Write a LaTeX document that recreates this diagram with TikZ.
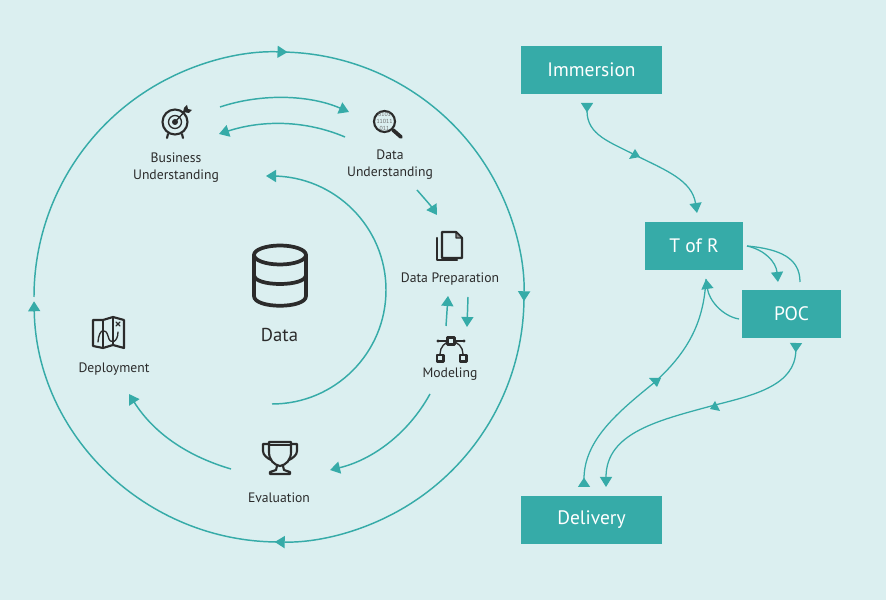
\documentclass[tikz,border=0pt]{standalone}
\usepackage{fontspec}
\setmainfont{PT Sans}
\usetikzlibrary{calc,arrows.meta,positioning}
\definecolor{paper}{HTML}{DBEFF0}
\definecolor{teal}{HTML}{36ABA8}
\definecolor{ink}{HTML}{2B2B2B}

\begin{document}
\begin{tikzpicture}[
  x=0.75pt, y=0.75pt,
  flow/.style={draw=teal, line width=1.1pt, -{Triangle[length=7.5pt,width=9pt]}},
  relay/.style={draw=teal, line width=.95pt},
  relaytip/.style={relay, -{Triangle[length=7.5pt,width=9pt]}},
  stagebox/.style={draw=none, fill=teal, text=white, font=\fontsize{14.6}{16}\selectfont,
    minimum height=36pt, inner sep=0pt},
  step label/.style={text=ink, font=\fontsize{10.25}{12.75}\selectfont, align=center},
  icon/.style={draw=ink, line width=1.6pt, line cap=round, line join=round},
  thinicon/.style={draw=ink, line width=1pt, line cap=round, line join=round}
]
  \useasboundingbox (0,0) rectangle (886,600);
  \fill[paper] (0,0) rectangle (886,600);

  % === Outer ring ===
  \draw[flow] (34,303) arc[start angle=180, end angle=88, radius=245];
  \draw[flow] (279,548) arc[start angle=90, end angle=-1, radius=245];
  \draw[flow] (524,303) arc[start angle=0, end angle=-91, radius=245];
  \draw[flow] (279,58) arc[start angle=-90, end angle=-179, radius=245];

  % === Labels ===
  \node[step label] (business) at (176,432) {Business\\Understanding};
  \node[step label] (understanding) at (390,435) {Data\\Understanding};
  \node[step label] (preparation) at (450,321) {Data Preparation};
  \node[step label] (modeling) at (450,226) {Modeling};
  \node[step label] (evaluation) at (279,102) {Evaluation};
  \node[step label] (deployment) at (114,231) {Deployment};
  \node[text=ink, font=\fontsize{14}{16}\selectfont] (data) at (279.5,265) {Data};

  % === Inner arrows ===
  \coordinate (bu out) at (220,493);
  \coordinate (du in) at (349,488);
  \coordinate (du out) at (345,463);
  \coordinate (bu in) at (219,466);
  \draw[flow] (bu out) .. controls (262,507) and (310,505) .. (du in);
  \draw[flow] (du out) .. controls (305,480) and (262,480) .. (bu in);
  \draw[flow] (417,410) .. controls (424,402) and (431,394) .. (437,385);
  \draw[flow] (446,274) -- (448,304);
  \draw[flow] (468,303) -- (467,273);
  \draw[flow] (430,206) .. controls (408,166) and (372,140) .. (330,130);
  \draw[flow] (231,131) .. controls (190,143) and (155,165) .. (129,206);
  \draw[flow] (272,196) arc[start angle=-90, end angle=90, radius=114] -- (266,424);

  % === Data icon ===
  \begin{scope}[icon, line width=2.8pt]
    \draw (280,345) ellipse[x radius=26, y radius=9.5];
    \draw (254,345) -- (254,304) .. controls (254,291) and (306,291) .. (306,304) -- (306,345);
    \draw (254,325) .. controls (254,313) and (306,313) .. (306,325);
  \end{scope}

  % === Business Understanding icon ===
  \draw[icon] (175,478) circle[radius=12.5];
  \draw[thinicon] (175,478) circle[radius=6.5];
  \fill[ink] (175,478) circle[radius=3];
  \draw[thinicon] (175,478) -- (187,491);
  \fill[ink] (183,488) -- (189,487) -- (192,490) -- (188,491) -- (187,495) -- (184,492) -- cycle;
  \draw[icon] (168,466) -- (167,462);
  \draw[icon] (182,466) -- (183,462);

  % === Data Understanding icon ===
  \draw[icon] (384.5,478.5) circle[radius=10.5];
  \draw[icon, line width=2.8pt] (393,470) -- (401,463);
  \node[text=ink!70, font=\fontsize{4.4}{5}\selectfont, align=center, inner sep=0pt] (lens) at (384.5,478.5) {0101\\11011\\011};

  % === Data Preparation icon ===
  \draw[icon] (442,368) -- (442,342) -- (462,342) -- (462,362) -- (456,368) -- cycle;
  \draw[thinicon, fill=ink!55] (456,368) -- (456,362) -- (462,362) -- cycle;
  \draw[icon] (437,362) -- (437,340) -- (442,340);
  \draw[icon] (442,340) -- (457,340);

  % === Modeling icon ===
  \draw[thinicon] (438,259) -- (464,259);
  \fill[ink] (438,259) circle[radius=1.6] (464,259) circle[radius=1.6];
  \draw[thinicon] (440,246) .. controls (440,253) and (445,258) .. (451,259);
  \draw[thinicon] (463,246) .. controls (463,253) and (458,258) .. (451,259);
  \draw[icon, fill=paper] (447.5,255.5) rectangle (454.5,262.5);
  \draw[icon, fill=paper] (437,238.5) rectangle (443.5,245);
  \draw[icon, fill=paper] (460,238.5) rectangle (466.5,245);

  % === Evaluation icon ===
  \draw[icon] (269,158) -- (291,158) -- (291,148) .. controls (291,140) and (286,135) .. (280,134) .. controls (274,135) and (269,140) .. (269,148) -- cycle;
  \draw[thinicon] (269,155) -- (291,155);
  \draw[icon] (269,156) -- (263,156) -- (263,149) .. controls (263,145) and (267,142) .. (271,140);
  \draw[icon] (291,156) -- (297,156) -- (297,149) .. controls (297,145) and (293,142) .. (289,140);
  \draw[icon] (277,134) -- (276,130) -- (270,128) -- (270,126) -- (290,126) -- (290,128) -- (284,130) -- (283,134);

  % === Deployment icon ===
  \draw[icon] (93,280) -- (93,254) -- (103,252) -- (113,255) -- (124,252) -- (124,280) -- (113,283) -- (103,280) -- cycle;
  \draw[thinicon] (103,280) -- (103,252) (113,283) -- (113,255);
  \draw[thinicon] (98,258) .. controls (99,272) and (106,272) .. (108,264) .. controls (110,254) and (118,258) .. (118,268);
  \draw[thinicon] (116,274) -- (120,278) (120,274) -- (116,278);

  % === Stages ===
  \node[stagebox, minimum width=105.75pt] (immersion) at (591.5,530) {Immersion};
  \node[stagebox, minimum width=73.5pt] (tor) at (694,354) {T of R};
  \node[stagebox, minimum width=74.25pt] (poc) at (791.5,286) {POC};
  \node[stagebox, minimum width=105.75pt] (delivery) at (591.5,80) {Delivery};

  % === Stage connectors ===
  \coordinate (im out) at (587,497);
  \coordinate (im mid) at (635,445);
  \coordinate (tor in) at (697,387);
  \coordinate (tor out) at (747,354);
  \coordinate (poc in) at (778,318);
  \coordinate (tor loop) at (800,318);
  \coordinate (poc out) at (739,281);
  \coordinate (tor back) at (706,321);
  \coordinate (de out) at (584,113);
  \coordinate (de mid) at (655,218);
  \coordinate (poc down) at (796,257);
  \coordinate (poc mid) at (715,195);
  \coordinate (de in) at (606,113);

  \draw[relay, {Triangle[reversed,length=7pt,width=9pt]}-] (im out) .. controls (587,465) and (610,458) .. (im mid);
  \draw[relaytip] (im mid) .. controls (665,430) and (692,420) .. (tor in);
  \draw[relaytip] (tor out) .. controls (765,350) and (776,338) .. (poc in);
  \draw[relay] (tor out) .. controls (780,351) and (800,342) .. (tor loop);
  \draw[relaytip] (poc out) .. controls (722,284) and (709,300) .. (tor back);
  \draw[relay] (tor back) .. controls (704,280) and (690,250) .. (de mid);
  \draw[relay, {Triangle[reversed,length=7pt,width=9pt]}-] (poc down) .. controls (795,215) and (755,205) .. (poc mid);
  \draw[relaytip] (poc mid) .. controls (660,180) and (606,168) .. (de in);
  \draw[relay, -{Triangle[reversed,length=7pt,width=9pt]}] (de mid) .. controls (618,188) and (584,160) .. (de out);

  % Triangles along the connectors
  \fill[teal] (635,451) -- (629,441) -- (640,443) -- cycle;
  \fill[teal] (649,222) -- (661,222) -- (657,213) -- cycle;
  \fill[teal] (715,199) -- (710,191) -- (720,189) -- cycle;
\end{tikzpicture}
\end{document}
